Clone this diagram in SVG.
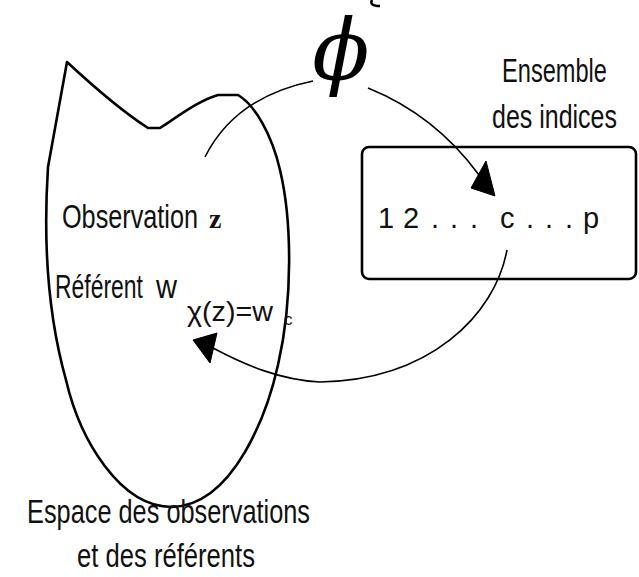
<svg xmlns="http://www.w3.org/2000/svg" width="639" height="577" viewBox="0 0 639 577">
<style>
.t{font-family:"Liberation Sans",Arial,sans-serif;font-size:25px;fill:#111}
.shape{fill:none;stroke:#000;stroke-width:2.6;stroke-linejoin:round}
.conn{fill:none;stroke:#000;stroke-width:1.6}
.head{fill:#000;stroke:#000;stroke-width:1}
</style>
<rect width="639" height="577" fill="#fff"/>
<g id="espace">
<path class="shape" d="M67,62 C95,88 120,110 148,128 L160,128 C180,115 200,100 218,95 L238,95 C255,105 272,135 280,170 C292,220 293,300 278,365 C268,410 235,505 172,507 C120,507 80,440 66,380 C52,330 42,260 48,167 Z"/>
<text class="t" transform="translate(62,228) scale(1,1.32)" textLength="136" lengthAdjust="spacingAndGlyphs">Observation</text>
<text x="209" y="228" font-family="'Liberation Serif',serif" font-weight="bold" font-size="28" fill="#111">z</text>
<text class="t" transform="translate(55,298) scale(1,1.35)" style="font-size:24px" textLength="88" lengthAdjust="spacingAndGlyphs">Référent</text>
<text class="t" transform="translate(156,298) scale(1,1.3)" textLength="21" lengthAdjust="spacingAndGlyphs">w</text>
<text class="t" transform="translate(187,321) scale(1,1.2)" style="font-size:23px" textLength="86" lengthAdjust="spacingAndGlyphs">χ(z)=w</text>
<text class="t" x="284" y="325" style="font-size:17px">c</text>
<text class="t" transform="translate(27,523) scale(1,1.32)" textLength="283" lengthAdjust="spacingAndGlyphs">Espace des observations</text>
<text class="t" transform="translate(77,567) scale(1,1.32)" textLength="178" lengthAdjust="spacingAndGlyphs">et des référents</text>
</g>
<g id="indices">
<rect class="shape" x="362" y="147" width="274" height="132" rx="7"/>
<text class="t" y="228" style="font-size:29px" x="378 403 431 450 470 500 526 545 565 583">12...c...p</text>
<text class="t" transform="translate(502,82) scale(1,1.4)" style="font-size:24px" textLength="105" lengthAdjust="spacingAndGlyphs">Ensemble</text>
<text class="t" transform="translate(492,128) scale(1,1.4)" style="font-size:24px" textLength="125" lengthAdjust="spacingAndGlyphs">des indices</text>
</g>
<g id="phi">
<text x="341" y="79" text-anchor="middle" font-family="'DejaVu Serif',serif" font-style="italic" font-size="84" fill="#000">ϕ</text>
</g>
<g id="connectors">
<path class="conn" d="M205,157 Q235,97 313,81"/>
<path class="conn" d="M368,88 Q435,115 479,175"/>
<polygon class="head" points="495,196 471,188 486,161"/>
<path class="conn" d="M507,250 C495,315 430,380 320,382 C280,380 245,365 213,348"/>
<polygon class="head" points="193,340 217,333 210,363"/>
<path class="shape" d="M372,0 Q369,6 380,6"/>
</g>
</svg>
